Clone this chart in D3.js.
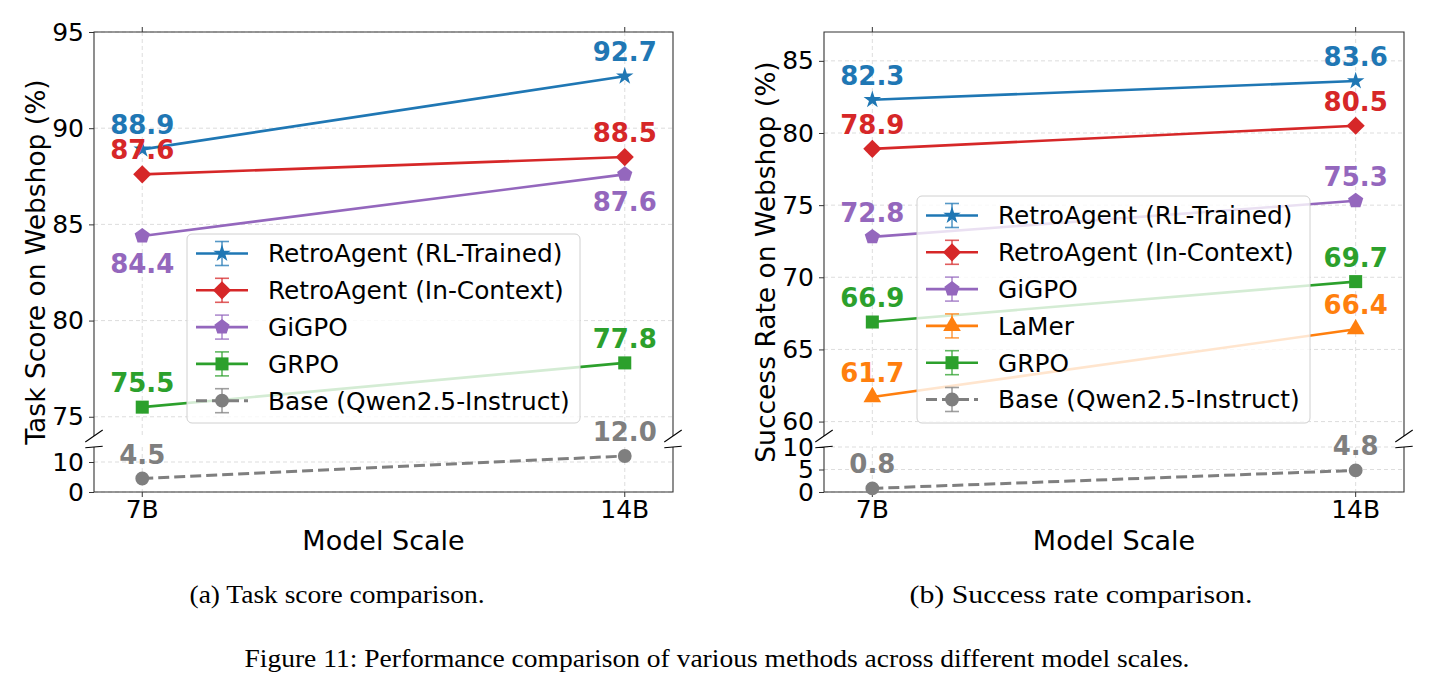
<!DOCTYPE html>
<html>
<head>
<meta charset="utf-8">
<script src="https://cdn.jsdelivr.net/npm/d3@7"></script>
<style>
  body { margin: 0; background: #fff; }
  svg text { font-family: "DejaVu Sans", sans-serif; }
  .caption { font-family: "Liberation Serif", serif; }
</style>
</head>
<body>
<svg id="fig" width="1436" height="691"></svg>
<script>
const modelScales = ["7B", "14B"]

// (a) task score
const scoreRL = [88.9, 92.7]
const scoreInContext = [87.6, 88.5]
const scoreGiGPO = [84.4, 87.6]
const scoreGRPO = [75.5, 77.8]
const scoreBase = [4.5, 12.0]

// (b) success rate
const successRL = [82.3, 83.6]
const successInContext = [78.9, 80.5]
const successGiGPO = [72.8, 75.3]
const successLaMer = [61.7, 66.4]
const successGRPO = [66.9, 69.7]
const successBase = [0.8, 4.8]

const scoreUpperTicks = [75, 80, 85, 90, 95]
const scoreLowerTicks = [0, 10]
const successUpperTicks = [60, 65, 70, 75, 80, 85]
const successLowerTicks = [0, 5, 10]

const COLOURS = {
    blue: "#1f77b4",
    red: "#d62728",
    purple: "#9467bd",
    green: "#2ca02c",
    orange: "#ff7f0e",
    grey: "#7f7f7f",
}

const svg = d3.select("#fig")

function pentagon(r) {
    const pts = d3.range(5).map((k) => {
        const a = -Math.PI / 2 + (k * 2 * Math.PI) / 5
        return [r * Math.cos(a), r * Math.sin(a)]
    })
    return "M" + pts.map((p) => p.join(",")).join("L") + "Z"
}

function markerPath(kind) {
    switch (kind) {
        case "star": return d3.symbol(d3.symbolStar, 95)()
        case "diamond": return d3.symbol(d3.symbolSquare, 165)()
        case "pentagon": return pentagon(8)
        case "square": return d3.symbol(d3.symbolSquare, 170)()
        case "triangle": return d3.symbol(d3.symbolTriangle, 135)()
        default: return d3.symbol(d3.symbolCircle, 150)()
    }
}

function drawMarker(g, kind, x, y, colour) {
    g.append("path")
        .attr("d", markerPath(kind))
        .attr("transform", `translate(${x},${y})` + (kind === "diamond" ? " rotate(45)" : ""))
        .attr("fill", colour)
}

function drawPanel(cfg) {
    const g = svg.append("g")
    // xlim [-0.1, 1.1] with the two model scales at 0 and 1
    const xl = d3.scaleLinear().domain([-0.1, 1.1]).range([cfg.left, cfg.right])
    const xPos = (i) => xl(i)

    const yUp = d3.scaleLinear().domain(cfg.upperDomain).range([cfg.breakTop, cfg.top])
    const yLo = d3.scaleLinear().domain(cfg.lowerDomain).range([cfg.bottom, cfg.breakBottom])

    const grid = g.append("g")
        .attr("stroke", "#d9d9d9").attr("stroke-width", 0.9).attr("stroke-dasharray", "4,3")
    cfg.upperTicks.forEach((t) => {
        grid.append("line").attr("x1", cfg.left).attr("x2", cfg.right).attr("y1", yUp(t)).attr("y2", yUp(t))
    })
    cfg.lowerTicks.forEach((t) => {
        grid.append("line").attr("x1", cfg.left).attr("x2", cfg.right).attr("y1", yLo(t)).attr("y2", yLo(t))
    })
    modelScales.forEach((_, i) => {
        grid.append("line").attr("x1", xPos(i)).attr("x2", xPos(i)).attr("y1", cfg.top).attr("y2", cfg.breakTop)
        grid.append("line").attr("x1", xPos(i)).attr("x2", xPos(i)).attr("y1", cfg.breakBottom).attr("y2", cfg.bottom)
    })

    const upperAxis = g.append("g")
        .attr("transform", `translate(${cfg.left},0)`)
        .call(d3.axisLeft(yUp).tickValues(cfg.upperTicks).tickSize(5).tickPadding(5))
    const lowerAxis = g.append("g")
        .attr("transform", `translate(${cfg.left},0)`)
        .call(d3.axisLeft(yLo).tickValues(cfg.lowerTicks).tickSize(5).tickPadding(5))
    ;[upperAxis, lowerAxis].forEach((a) => {
        a.select(".domain").remove()
        a.selectAll("line").attr("stroke", "#333")
        a.selectAll("text").attr("font-size", 25).attr("fill", "#000")
            .attr("font-family", "DejaVu Sans")
    })

    // x ticks on top of upper panel and below lower panel
    const xTicks = g.append("g").attr("stroke", "#333")
    modelScales.forEach((_, i) => {
        xTicks.append("line").attr("x1", xPos(i)).attr("x2", xPos(i)).attr("y1", cfg.top - 5).attr("y2", cfg.top)
        xTicks.append("line").attr("x1", xPos(i)).attr("x2", xPos(i)).attr("y1", cfg.bottom).attr("y2", cfg.bottom + 5)
    })
    g.append("g").selectAll("text").data(modelScales).join("text")
        .attr("x", (d, i) => xPos(i)).attr("y", cfg.bottom + 26)
        .attr("text-anchor", "middle").attr("font-size", 25).text((d) => d)

    // spines
    const sp = g.append("g").attr("stroke", "#333").attr("stroke-width", 1.1).attr("fill", "none")
    sp.append("path").attr("d", `M${cfg.left},${cfg.breakTop}V${cfg.top}H${cfg.right}V${cfg.breakTop}`)
    sp.append("path").attr("d", `M${cfg.left},${cfg.breakBottom}V${cfg.bottom}H${cfg.right}V${cfg.breakBottom}`)

    // break marks
    const bm = g.append("g").attr("stroke", "#000").attr("stroke-width", 1.1)
    ;[cfg.left, cfg.right].forEach((sx) => {
        bm.append("line").attr("x1", sx - 8.7).attr("y1", cfg.breakTop + 6).attr("x2", sx + 8.7).attr("y2", cfg.breakTop - 6)
        bm.append("line").attr("x1", sx - 8.7).attr("y1", cfg.breakBottom + 0.8).attr("x2", sx + 8.7).attr("y2", cfg.breakBottom - 0.8)
    })

    // series
    const line = d3.line().x((d, i) => xPos(i))
    cfg.series.forEach((s) => {
        const y = s.lower ? yLo : yUp
        g.append("path")
            .datum(s.values)
            .attr("fill", "none")
            .attr("stroke", s.colour)
            .attr("stroke-width", s.dashed ? 3 : 2.6)
            .attr("stroke-dasharray", s.dashed ? "11,5" : null)
            .attr("d", line.y((d) => y(d)))
        s.values.forEach((v, i) => drawMarker(g, s.marker, xPos(i), y(v), s.colour))
    })

    // value labels
    cfg.series.forEach((s) => {
        const y = s.lower ? yLo : yUp
        s.values.forEach((v, i) => {
            const below = s.below && s.below[i]
            g.append("text")
                .attr("x", xPos(i))
                .attr("y", below ? y(v) + 37 : y(v) - 15)
                .attr("text-anchor", "middle")
                .attr("font-size", 26)
                .attr("font-weight", "bold")
                .attr("fill", s.colour)
                .text(v.toFixed(1))
        })
    })

    // legend
    const lg = g.append("g").attr("transform", `translate(${cfg.legend.x},${cfg.legend.y})`)
    lg.append("rect")
        .attr("width", cfg.legend.w).attr("height", cfg.legend.h)
        .attr("rx", 5).attr("fill", "#fff").attr("fill-opacity", 0.8)
        .attr("stroke", "#d0d0d0").attr("stroke-width", 1)
    cfg.series.forEach((s, k) => {
        const cy = 19.5 + k * 36.8
        const row = lg.append("g")
        row.append("line").attr("x1", 9).attr("x2", 61).attr("y1", cy).attr("y2", cy)
            .attr("stroke", s.colour).attr("stroke-width", s.dashed ? 3 : 2.6)
            .attr("stroke-dasharray", s.dashed ? "11,5" : null)
        const eb = row.append("g").attr("stroke", s.colour).attr("stroke-opacity", 0.75).attr("stroke-width", 1.6)
        eb.append("line").attr("x1", 35).attr("x2", 35).attr("y1", cy - 12).attr("y2", cy + 12)
        eb.append("line").attr("x1", 28).attr("x2", 42).attr("y1", cy - 12).attr("y2", cy - 12)
        eb.append("line").attr("x1", 28).attr("x2", 42).attr("y1", cy + 12).attr("y2", cy + 12)
        drawMarker(row, s.marker, 35, cy, s.colour)
        row.append("text").attr("x", 81).attr("y", cy).attr("dy", "0.36em")
            .attr("font-size", 24.8).text(s.name)
    })

    // axis labels
    g.append("text")
        .attr("transform", `translate(${cfg.yLabelX},${(cfg.top + cfg.bottom) / 2}) rotate(-90)`)
        .attr("text-anchor", "middle").attr("font-size", 26.5).text(cfg.yLabel)
    g.append("text")
        .attr("x", (cfg.left + cfg.right) / 2).attr("y", 550)
        .attr("text-anchor", "middle").attr("font-size", 27).text("Model Scale")
}

drawPanel({
    left: 94, right: 673, top: 32, breakTop: 436, breakBottom: 447, bottom: 492,
    upperDomain: [74, 95], upperTicks: scoreUpperTicks,
    lowerDomain: [0, 15], lowerTicks: scoreLowerTicks,
    yLabel: "Task Score on Webshop (%)", yLabelX: 45,
    legend: { x: 187, y: 234, w: 393, h: 189 },
    series: [
        { name: "RetroAgent (RL-Trained)", values: scoreRL, colour: COLOURS.blue, marker: "star" },
        { name: "RetroAgent (In-Context)", values: scoreInContext, colour: COLOURS.red, marker: "diamond" },
        { name: "GiGPO", values: scoreGiGPO, colour: COLOURS.purple, marker: "pentagon", below: [true, true] },
        { name: "GRPO", values: scoreGRPO, colour: COLOURS.green, marker: "square" },
        { name: "Base (Qwen2.5-Instruct)", values: scoreBase, colour: COLOURS.grey, marker: "circle", dashed: true, lower: true },
    ],
})

drawPanel({
    left: 824, right: 1404, top: 32, breakTop: 436, breakBottom: 447, bottom: 492,
    upperDomain: [59, 87], upperTicks: successUpperTicks,
    lowerDomain: [0, 10], lowerTicks: successLowerTicks,
    yLabel: "Success Rate on Webshop (%)", yLabelX: 775,
    legend: { x: 917, y: 196, w: 393, h: 227 },
    series: [
        { name: "RetroAgent (RL-Trained)", values: successRL, colour: COLOURS.blue, marker: "star" },
        { name: "RetroAgent (In-Context)", values: successInContext, colour: COLOURS.red, marker: "diamond" },
        { name: "GiGPO", values: successGiGPO, colour: COLOURS.purple, marker: "pentagon" },
        { name: "LaMer", values: successLaMer, colour: COLOURS.orange, marker: "triangle" },
        { name: "GRPO", values: successGRPO, colour: COLOURS.green, marker: "square" },
        { name: "Base (Qwen2.5-Instruct)", values: successBase, colour: COLOURS.grey, marker: "circle", dashed: true, lower: true },
    ],
})

// captions
svg.append("text").attr("class", "caption")
    .attr("x", 337).attr("y", 603).attr("text-anchor", "middle")
    .attr("font-size", 25).attr("textLength", 295).attr("lengthAdjust", "spacingAndGlyphs")
    .text("(a) Task score comparison.")
svg.append("text").attr("class", "caption")
    .attr("x", 1081).attr("y", 603).attr("text-anchor", "middle")
    .attr("font-size", 25).attr("textLength", 343).attr("lengthAdjust", "spacingAndGlyphs")
    .text("(b) Success rate comparison.")
svg.append("text").attr("class", "caption")
    .attr("x", 717).attr("y", 667).attr("text-anchor", "middle")
    .attr("font-size", 25).attr("textLength", 945).attr("lengthAdjust", "spacingAndGlyphs")
    .text("Figure 11: Performance comparison of various methods across different model scales.")
</script>
</body>
</html>
